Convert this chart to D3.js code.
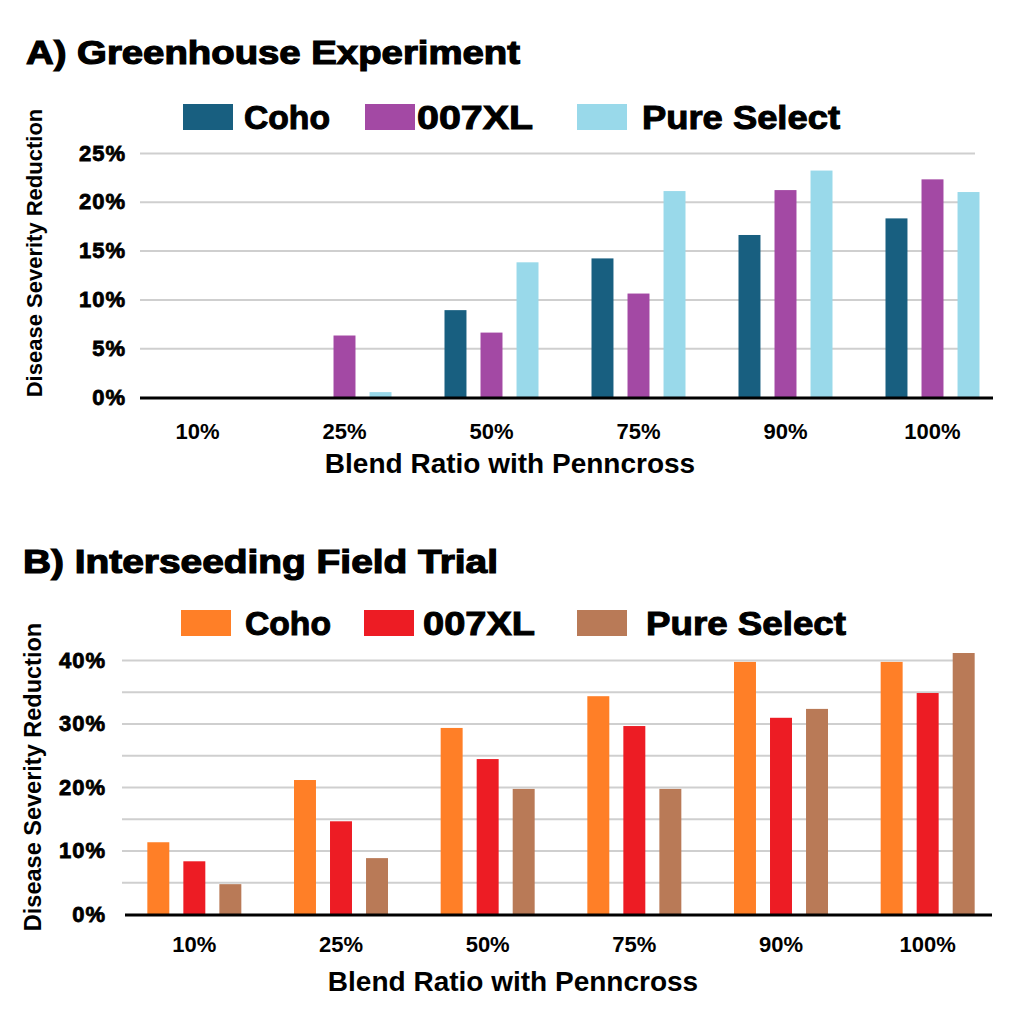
<!DOCTYPE html>
<html>
<head>
<meta charset="utf-8">
<script src="https://cdn.jsdelivr.net/npm/d3@7"></script>
<style>
  body { margin: 0; background: #fff; }
  text { font-family: "Liberation Sans", Arial, sans-serif; font-weight: bold; fill: #000; }
</style>
</head>
<body>
<script>
// categories (blend ratio) and series names
const categories = ["10%", "25%", "50%", "75%", "90%", "100%"];
const seriesNames = ["Coho", "007XL", "Pure Select"];

// A) Greenhouse experiment, % reduction
const greenhouseCoho = [0, 0, 8.9, 14.2, 16.6, 18.3];
const greenhouse007XL = [0, 6.3, 6.6, 10.6, 21.2, 22.3];
const greenhousePure = [0, 0.5, 13.8, 21.1, 23.2, 21.0];
const greenhouseTicks = [0, 5, 10, 15, 20, 25];
const greenhouseGrid = [5, 10, 15, 20, 25];

// B) Interseeding field trial, % reduction
const fieldCoho = [11.3, 21.1, 29.3, 34.3, 39.7, 39.7];
const field007XL = [8.3, 14.6, 24.4, 29.6, 30.9, 34.8];
const fieldPure = [4.7, 8.8, 19.7, 19.7, 32.3, 41.1];
const fieldTicks = [0, 10, 20, 30, 40];
const fieldGrid = [5, 10, 15, 20, 25, 30, 35, 40];

const svg = d3.select("body").append("svg")
    .attr("width", 1022)
    .attr("height", 1024);

function drawPanel(p) {
    const g = svg.append("g");

    const x = d3.scaleBand().domain(categories).range(p.xRange);
    const xs = d3.scaleBand().domain(seriesNames).range([-47, 47]).paddingInner(0.39);
    const y = d3.scaleLinear().domain([0, p.yMax]).range([p.y0, p.yTop]);
    const color = d3.scaleOrdinal().domain(seriesNames).range(p.colors);

    // title
    g.append("text")
        .attr("x", p.titleX).attr("y", p.titleY)
        .attr("font-size", 33)
        .attr("textLength", p.titleLen).attr("lengthAdjust", "spacingAndGlyphs")
        .attr("stroke", "#000").attr("stroke-width", 1.2)
        .text(p.title);

    // legend
    const leg = g.selectAll(".leg").data(seriesNames).enter().append("g");
    leg.append("rect")
        .attr("x", (d, i) => p.legSwatchX[i]).attr("y", p.legY - 13)
        .attr("width", 50).attr("height", 26)
        .attr("fill", d => color(d));
    leg.append("text")
        .attr("x", (d, i) => p.legTextX[i]).attr("y", p.legY + 12)
        .attr("font-size", 33)
        .attr("textLength", (d, i) => p.legTextLen[i]).attr("lengthAdjust", "spacingAndGlyphs")
        .attr("stroke", "#000").attr("stroke-width", 1)
        .text(d => d);

    // gridlines
    g.append("g")
        .attr("transform", `translate(${p.gridL},0)`)
        .call(d3.axisLeft(y).tickValues(p.grid).tickSize(-(p.gridR - p.gridL)).tickFormat(""))
        .call(s => s.select(".domain").remove())
        .call(s => s.selectAll("line").attr("stroke", "#cfcfcf").attr("stroke-width", 2));

    // y tick labels
    g.append("g")
        .attr("transform", `translate(${p.yLabelR},0)`)
        .call(d3.axisLeft(y).tickValues(p.ticks).tickSize(0).tickPadding(0).tickFormat(d => d + "%"))
        .call(s => s.select(".domain").remove())
        .call(s => s.selectAll("text")
            .attr("font-size", 22)
            .attr("letter-spacing", 1)
            .attr("fill", "#000").attr("stroke", "#000").attr("stroke-width", 0.8)
            .style("font-family", "'Liberation Sans', Arial, sans-serif"));

    // bars
    g.selectAll(".grp").data(categories).enter().append("g")
        .attr("transform", d => `translate(${x(d) + x.bandwidth() / 2},0)`)
        .selectAll("rect")
        .data((c, i) => seriesNames.map((s, j) => ({ s: s, v: p.values[j][i] })))
        .enter().append("rect")
        .attr("x", d => xs(d.s))
        .attr("width", xs.bandwidth())
        .attr("y", d => y(d.v))
        .attr("height", d => p.y0 - y(d.v))
        .attr("fill", d => color(d.s));

    // baseline
    g.append("line")
        .attr("x1", p.baseL).attr("x2", p.baseR)
        .attr("y1", p.y0 + 1).attr("y2", p.y0 + 1)
        .attr("stroke", "#000").attr("stroke-width", 3);

    // x tick labels
    g.append("g")
        .attr("transform", `translate(0,${p.xLabelY})`)
        .call(d3.axisBottom(x).tickSize(0).tickPadding(0))
        .call(s => s.select(".domain").remove())
        .call(s => s.selectAll("text")
            .attr("dy", 0)
            .attr("font-size", 22)
            .attr("fill", "#000")
            .style("font-family", "'Liberation Sans', Arial, sans-serif"));

    // axis titles
    g.append("text")
        .attr("x", p.xTitleX).attr("y", p.xTitleY)
        .attr("text-anchor", "middle")
        .attr("font-size", 28)
        .text("Blend Ratio with Penncross");

    g.append("text")
        .attr("transform", `translate(${p.yTitleX},${p.yTitleY}) rotate(-90)`)
        .attr("text-anchor", "middle")
        .attr("font-size", p.yTitleSize)
        .text("Disease Severity Reduction");
}

drawPanel({
    title: "A) Greenhouse Experiment",
    titleX: 26, titleY: 64, titleLen: 494,
    colors: ["#185f80", "#a349a4", "#99d9ea"],
    values: [greenhouseCoho, greenhouse007XL, greenhousePure],
    legY: 117,
    legSwatchX: [183, 365, 577],
    legTextX: [244, 417, 642],
    legTextLen: [86, 116, 198],
    yMax: 25, y0: 397, yTop: 153,
    ticks: greenhouseTicks, grid: greenhouseGrid,
    xRange: [124, 1006],
    gridL: 140, gridR: 975,
    baseL: 140, baseR: 993,
    yLabelR: 126,
    xLabelY: 439,
    xTitleX: 510, xTitleY: 473,
    yTitleX: 42, yTitleY: 253, yTitleSize: 22
});

drawPanel({
    title: "B) Interseeding Field Trial",
    titleX: 23, titleY: 573, titleLen: 475,
    colors: ["#ff7f27", "#ed1c24", "#b97a57"],
    values: [fieldCoho, field007XL, fieldPure],
    legY: 623,
    legSwatchX: [181, 364, 577],
    legTextX: [245, 423, 646],
    legTextLen: [86, 112, 200],
    yMax: 40, y0: 914, yTop: 660,
    ticks: fieldTicks, grid: fieldGrid,
    xRange: [121, 1001],
    gridL: 122, gridR: 974,
    baseL: 125, baseR: 992,
    yLabelR: 106,
    xLabelY: 952,
    xTitleX: 513, xTitleY: 991,
    yTitleX: 41, yTitleY: 777, yTitleSize: 23.5
});
</script>
</body>
</html>
